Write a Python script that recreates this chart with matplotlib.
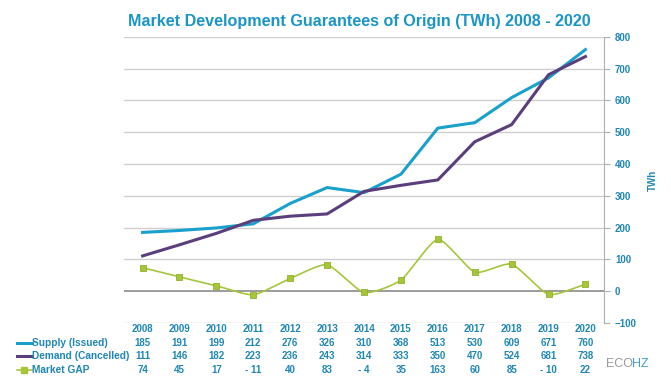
import numpy as np
import matplotlib
matplotlib.use("Agg")
import matplotlib.pyplot as plt
from matplotlib.lines import Line2D
import matplotlib.transforms as mtransforms

years = [2008, 2009, 2010, 2011, 2012, 2013, 2014, 2015, 2016, 2017, 2018, 2019, 2020]
supply = [185, 191, 199, 212, 276, 326, 310, 368, 513, 530, 609, 671, 760]
demand = [111, 146, 182, 223, 236, 243, 314, 333, 350, 470, 524, 681, 738]
gap = [74, 45, 17, -11, 40, 83, -4, 35, 163, 60, 85, -10, 22]
gap_labels = ["74", "45", "17", "- 11", "40", "83", "- 4", "35", "163", "60", "85", "- 10", "22"]

c_supply = "#1aa0cc"
c_demand = "#5a3f7c"
c_gap = "#a6c63a"
c_text = "#1f86b5"

plt.rcParams["font.family"] = ["Liberation Sans", "DejaVu Sans"]


def smooth(xs, ys, n=20):
    # Catmull-Rom style curve, similar to Excel's smoothed line
    xs = np.asarray(xs, float)
    ys = np.asarray(ys, float)
    px = np.concatenate([[2 * xs[0] - xs[1]], xs, [2 * xs[-1] - xs[-2]]])
    py = np.concatenate([[2 * ys[0] - ys[1]], ys, [2 * ys[-1] - ys[-2]]])
    ox, oy = [], []
    t = np.linspace(0, 1, n)
    for i in range(1, len(px) - 2):
        for p, o in ((px, ox), (py, oy)):
            p0, p1, p2, p3 = p[i - 1], p[i], p[i + 1], p[i + 2]
            m1 = (p2 - p0) / 2 * 0.6
            m2 = (p3 - p1) / 2 * 0.6
            h00 = 2 * t**3 - 3 * t**2 + 1
            h10 = t**3 - 2 * t**2 + t
            h01 = -2 * t**3 + 3 * t**2
            h11 = t**3 - t**2
            o.extend(h00 * p1 + h10 * m1 + h01 * p2 + h11 * m2)
    return np.array(ox), np.array(oy)


fig = plt.figure(figsize=(6.71, 3.92), dpi=100)
ax = fig.add_axes([0.185, 0.176, 0.715, 0.730])

x = np.arange(len(years))
ax.set_xlim(-0.5, len(years) - 0.5)
ax.set_ylim(-100, 800)

for v in range(-100, 801, 100):
    if v != 0:
        ax.axhline(v, color="#cfcfcf", lw=1.0, zorder=0)
ax.axhline(0, color="#8a8a8a", lw=1.2, zorder=1)

ax.plot(x, supply, color=c_supply, lw=2.2, zorder=3)
ax.plot(x, demand, color=c_demand, lw=2.2, zorder=3)
sx, sy = smooth(x, gap)
ax.plot(sx, sy, color=c_gap, lw=1.2, zorder=4)
ax.plot(x, gap, ls="none", marker="s", ms=4.5, color=c_gap,
        markeredgecolor="#93b02a", markeredgewidth=0.6, zorder=5)

for s in ["top", "left", "bottom"]:
    ax.spines[s].set_visible(False)
ax.spines["right"].set_color("#b0b0b0")
ax.yaxis.tick_right()
ax.yaxis.set_label_position("right")
ax.set_yticks(range(-100, 801, 100))
ax.tick_params(axis="y", length=4, color="#b0b0b0", labelsize=7,
               labelcolor=c_text, pad=4)
for lab in ax.get_yticklabels():
    lab.set_fontweight("bold")
ax.set_xticks([])
ax.set_ylabel("TWh", color=c_text, fontsize=7, fontweight="bold", labelpad=8)

fig.text(0.536, 0.945, "Market Development Guarantees of Origin (TWh) 2008 - 2020",
         ha="center", va="center", fontsize=11.6, fontweight="bold", color="#1a95c6")

# data table under the chart
trans = mtransforms.blended_transform_factory(ax.transData, fig.transFigure)
rows_y = [1 - 329 / 392, 1 - 343 / 392, 1 - 356 / 392, 1 - 370 / 392]
for i, yr in enumerate(years):
    ax.text(i, rows_y[0], str(yr), transform=trans, ha="center", va="center",
            fontsize=7, fontweight="bold", color=c_text)
    ax.text(i, rows_y[1], str(supply[i]), transform=trans, ha="center", va="center",
            fontsize=7, fontweight="bold", color=c_text)
    ax.text(i, rows_y[2], str(demand[i]), transform=trans, ha="center", va="center",
            fontsize=7, fontweight="bold", color=c_text)
    ax.text(i, rows_y[3], gap_labels[i], transform=trans, ha="center", va="center",
            fontsize=7, fontweight="bold", color=c_text)

row_names = ["Supply (Issued)", "Demand (Cancelled)", "Market GAP"]
row_colors = [c_supply, c_demand, c_gap]
for name, col, yy in zip(row_names, row_colors, rows_y[1:]):
    fig.add_artist(Line2D([0.025, 0.048], [yy, yy], color=col,
                          lw=1.2 if name == "Market GAP" else 2.2,
                          transform=fig.transFigure))
    if name == "Market GAP":
        fig.add_artist(Line2D([0.036], [yy], marker="s", ms=4, color=col,
                              transform=fig.transFigure))
    fig.text(0.048, yy, name, ha="left", va="center", fontsize=7.3,
             fontweight="bold", color=c_text)

logo = fig.text(0.903, 1 - 364 / 392, "ECO", ha="left", va="center",
                fontsize=9, color="#9a9a9a", fontstretch="condensed")
fig.text(0.942, 1 - 364 / 392, "HZ", ha="left", va="center", fontsize=9,
         color="#3ea0d0")

fig.savefig("out.png", dpi=100, facecolor="white")
